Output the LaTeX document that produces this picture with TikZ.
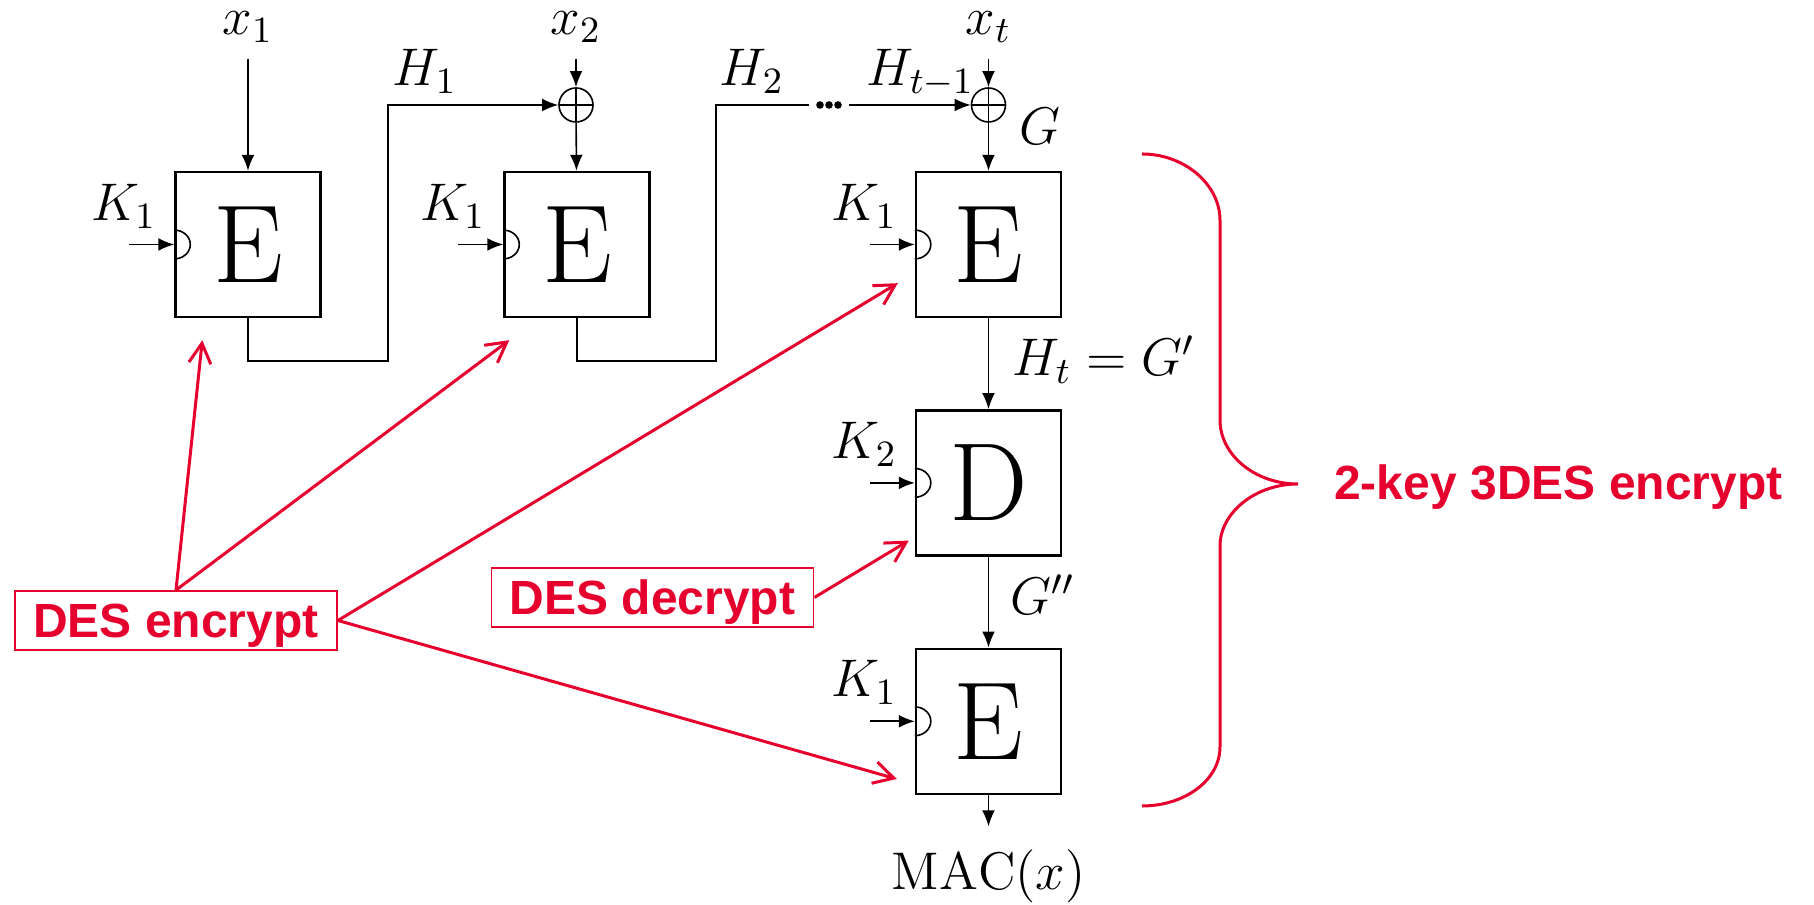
\documentclass[tikz,border=0pt]{standalone}
\usepackage{fix-cm}
\usepackage{fontspec}
\newfontfamily\annfont{Liberation Sans}
\usepackage{tikz}
\usetikzlibrary{arrows.meta,positioning,calc}
\definecolor{DesRed}{HTML}{E6002D}

\begin{document}
\begin{tikzpicture}[
        x=0.25pt, y=-0.25pt,
        node distance=22.75pt,
        blk/.style={
                draw,
                line width=0.6pt,
                minimum size=36.25pt,
                inner sep=0pt,
                font=\fontsize{27.75}{30}\selectfont
            },
        xor/.style={
                circle, draw,
                line width=0.4pt,
                minimum size=8.5pt,
                inner sep=0pt,
                path picture={\draw[line width=0.4pt]
                        (path picture bounding box.north) -- (path picture bounding box.south)
                        (path picture bounding box.west) -- (path picture bounding box.east);}
            },
        lbl/.style={inner sep=0pt, font=\fontsize{13.25}{16}\selectfont},
        wire/.style={line width=0.4pt},
        arr/.style={wire, -{Latex[length=4pt,width=3.2pt]}},
        redbox/.style={
                draw=DesRed,
                line width=0.45pt,
                text=DesRed,
                minimum width=80.5pt,
                minimum height=14.75pt,
                text depth=0pt,
                inner sep=0pt,
                font=\annfont\bfseries\fontsize{12}{14}\selectfont
            },
        redarr/.style={-{Straight Barb[length=5pt,width=5.5pt]}, draw=DesRed, line width=0.75pt},
    ]
    \useasboundingbox (0,0) rectangle (1814,905);

    % Cipher blocks
    \node[blk] (e1) at (248,244.5) {E};
    \node[blk] (e2) at (577,244.5) {E};
    \node[blk] (e3) at (988.5,244.5) {E};
    \node[blk, below=of e3] (d4) {D};
    \node[blk, below=of d4] (e5) {E};

    % XOR and chaining
    \node[xor] (xor2) at (576,105) {};
    \node[xor] (xor3) at (988.5,105) {};
    \node[inner sep=0pt, minimum width=9.5pt, minimum height=2pt] (dots) at (829,105) {};
    \foreach \dx in {-2.25,0,2.25}
    \fill ([xshift=\dx pt]dots.center) circle[radius=0.95pt];

    % Inputs and outputs
    \node[lbl, anchor=base] (x1) at (248,35) {$x_1$};
    \node[lbl, anchor=base] (x2) at (576,35) {$x_2$};
    \node[lbl, anchor=base] (xt) at (988.5,35) {$x_t$};
    \node[lbl, anchor=base] (mac) at (988.5,890) {$\mathrm{MAC}(x)$};

    \node[lbl, anchor=base west] (h1lbl) at (392,86) {$H_1$};
    \node[lbl, anchor=base west] (h2lbl) at (719,86) {$H_2$};
    \node[lbl, anchor=base west] (htlbl) at (866,86) {$H_{t-1}$};
    \node[lbl, anchor=base west] (glbl) at (1019,145) {$G$};
    \node[lbl, anchor=base west] (gplbl) at (1012,376) {$H_t = G'$};
    \node[lbl, anchor=base west] (gpplbl) at (1010,615) {$G''$};

    \coordinate (h1) at (388,361);
    \coordinate (h2) at (716,361);
    \draw[arr] (e1.south) |- (h1) |- (xor2.west);
    \draw[wire] (e2.south) |- (h2) |- (dots.west);
    \draw[arr] (dots.east) -- (xor3.west);

    \draw[arr, shorten <=3.75pt] (x1) -- (e1);
    \draw[arr, shorten <=3.75pt] (x2) -- (xor2);
    \draw[arr] (xor2) -- (e2);
    \draw[arr, shorten <=3.75pt] (xt) -- (xor3);
    \draw[arr] (xor3) -- (e3);
    \draw[arr] (e3) -- (d4);
    \draw[arr] (d4) -- (e5);
    \draw[arr, shorten >=5.75pt] (e5) -- (mac);

    % Key inputs
    \foreach \b/\k in {e1/1,e2/1,e3/1,d4/2,e5/1}{
        \coordinate (\b k) at ([xshift=-11.25pt]\b.west);
        \draw[arr] (\b k) -- (\b.west);
        \draw[wire] ([yshift=3.6pt]\b.west) arc[start angle=90, end angle=-90, x radius=4pt, y radius=3.6pt];
        \node[lbl, anchor=base east] at ([xshift=-4.25pt, yshift=6.1pt]\b.west) {$K_{\k}$};
    }

    % Annotations
    \node[redbox] (enc) at (176,620.5) {DES encrypt};
    \node[redbox] (dec) at (652.5,597.5) {DES decrypt};

    \coordinate (t1) at ([xshift=7pt, yshift=-5.5pt]e1.south west);
    \coordinate (t2) at ([xshift=1.5pt, yshift=-5.5pt]e2.south west);
    \coordinate (t3) at ([xshift=-4.25pt, yshift=8.75pt]e3.south west);
    \coordinate (t4) at ([xshift=-1.5pt, yshift=4pt]d4.south west);
    \coordinate (t5) at ([xshift=-4.5pt, yshift=4pt]e5.south west);

    \draw[redarr] (enc.north) -- (t1);
    \draw[redarr] (enc.north) -- (t2);
    \draw[redarr] (enc.east) -- (t3);
    \draw[redarr] (enc.east) -- (t5);
    \draw[redarr] (dec.east) -- (t4);

    % Brace
    \draw[DesRed, line width=0.75pt] (1142,154) .. controls (1185,154) and (1220,185) .. (1220,220)
    -- (1220,420) .. controls (1220,455) and (1255,484) .. (1298,484)
    .. controls (1255,484) and (1220,513) .. (1220,546)
    -- (1220,747) .. controls (1220,780) and (1185,806) .. (1142,806);
    \node[anchor=base west, inner sep=0pt, text=DesRed, font=\annfont\bfseries\fontsize{12}{14}\selectfont]
    (tdes) at (1333.5,500) {2-key 3DES encrypt};

\end{tikzpicture}
\end{document}
